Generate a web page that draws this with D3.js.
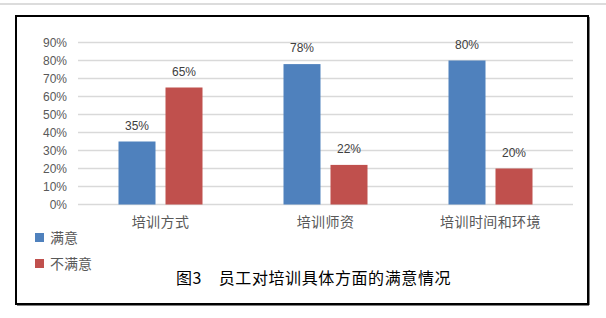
<!DOCTYPE html>
<html><head><meta charset="utf-8">
<script src="https://cdn.jsdelivr.net/npm/d3@7"></script>
<style>body{margin:0;background:#fff}svg{display:block}</style>
</head><body>
<svg id="c" width="606" height="318"></svg>
<script>
const categories = ["培训方式", "培训师资", "培训时间和环境"];
const seriesNames = ["满意", "不满意"];
const satisfied = [35, 78, 80];
const unsatisfied = [65, 22, 20];
const yTicks = [0, 10, 20, 30, 40, 50, 60, 70, 80, 90];
const colors = ["#4f81bd", "#c0504d"];
const titleText = "图3\u3000员工对培训具体方面的满意情况";

const svg = d3.select("#c");
const cjk = "'Noto Sans CJK SC','Noto Sans',sans-serif";
const num = "'Liberation Sans',Arial,sans-serif";

// top gray rule
svg.append("rect").attr("x",0).attr("y",3).attr("width",606).attr("height",2).attr("fill","#dcdcdc");
// frame
svg.append("rect").attr("x",16).attr("y",16).attr("width",572).attr("height",288)
  .attr("fill","#fff").attr("stroke","#000").attr("stroke-width",2);
svg.append("line").attr("x1",589).attr("x2",589).attr("y1",17).attr("y2",305).attr("stroke","#000").attr("stroke-width",1);
svg.append("line").attr("x1",17).attr("x2",589).attr("y1",305).attr("y2",305).attr("stroke","#000").attr("stroke-width",1);

const x0 = d3.scaleBand().domain(categories).range([78, 573]);
const x1 = d3.scaleBand().domain(seriesNames).range([0, 84]).paddingInner(10/47);
const y = d3.scaleLinear().domain([0, 90]).range([204.5, 42.5]);

// gridlines
svg.append("g").selectAll("line").data(yTicks).join("line")
  .attr("x1",78).attr("x2",573).attr("y1",d=>y(d)).attr("y2",d=>y(d))
  .attr("stroke","#d9d9d9").attr("stroke-width",1.6);

// y labels
svg.append("g").selectAll("text").data(yTicks).join("text")
  .attr("x",67).attr("y",d=>y(d)+4.5).attr("text-anchor","end")
  .attr("font-family",num).attr("font-size",12).attr("fill","#595959")
  .text(d=>d+"%");

const data = [];
categories.forEach((c,i)=>{
  data.push({c, s:seriesNames[0], v:satisfied[i], col:colors[0]});
  data.push({c, s:seriesNames[1], v:unsatisfied[i], col:colors[1]});
});
const gx = d=> x0(d.c) + x0.bandwidth()/2 - 42 + x1(d.s);

svg.append("g").selectAll("rect").data(data).join("rect")
  .attr("x",gx).attr("width",x1.bandwidth())
  .attr("y",d=>y(d.v)).attr("height",d=>y(0)-y(d.v)).attr("fill",d=>d.col);

svg.append("g").selectAll("text").data(data).join("text")
  .attr("x",d=>gx(d)+x1.bandwidth()/2).attr("y",d=>y(d.v)-12)
  .attr("text-anchor","middle").attr("font-family",num).attr("font-size",12).attr("fill","#404040")
  .text(d=>d.v+"%");

// category labels
svg.append("g").selectAll("text").data(categories).join("text")
  .attr("x",d=>x0(d)+x0.bandwidth()/2).attr("y",227)
  .attr("text-anchor","middle").attr("font-family",cjk).attr("font-size",14)
  .attr("letter-spacing",0.4).attr("fill","#595959").text(d=>d);

// legend
const lg = svg.append("g").selectAll("g").data(seriesNames).join("g")
  .attr("transform",(d,i)=>`translate(35,${233+i*26})`);
lg.append("rect").attr("width",9).attr("height",9).attr("fill",(d,i)=>colors[i]);
lg.append("text").attr("x",15).attr("y",10).attr("font-family",cjk).attr("font-size",14)
  .attr("fill","#595959").text(d=>d);

// title
svg.append("text").attr("x",176).attr("y",284).attr("font-family",cjk).attr("font-size",16)
  .attr("letter-spacing",0.6).attr("fill","#000").text(titleText);
</script>
</body></html>
